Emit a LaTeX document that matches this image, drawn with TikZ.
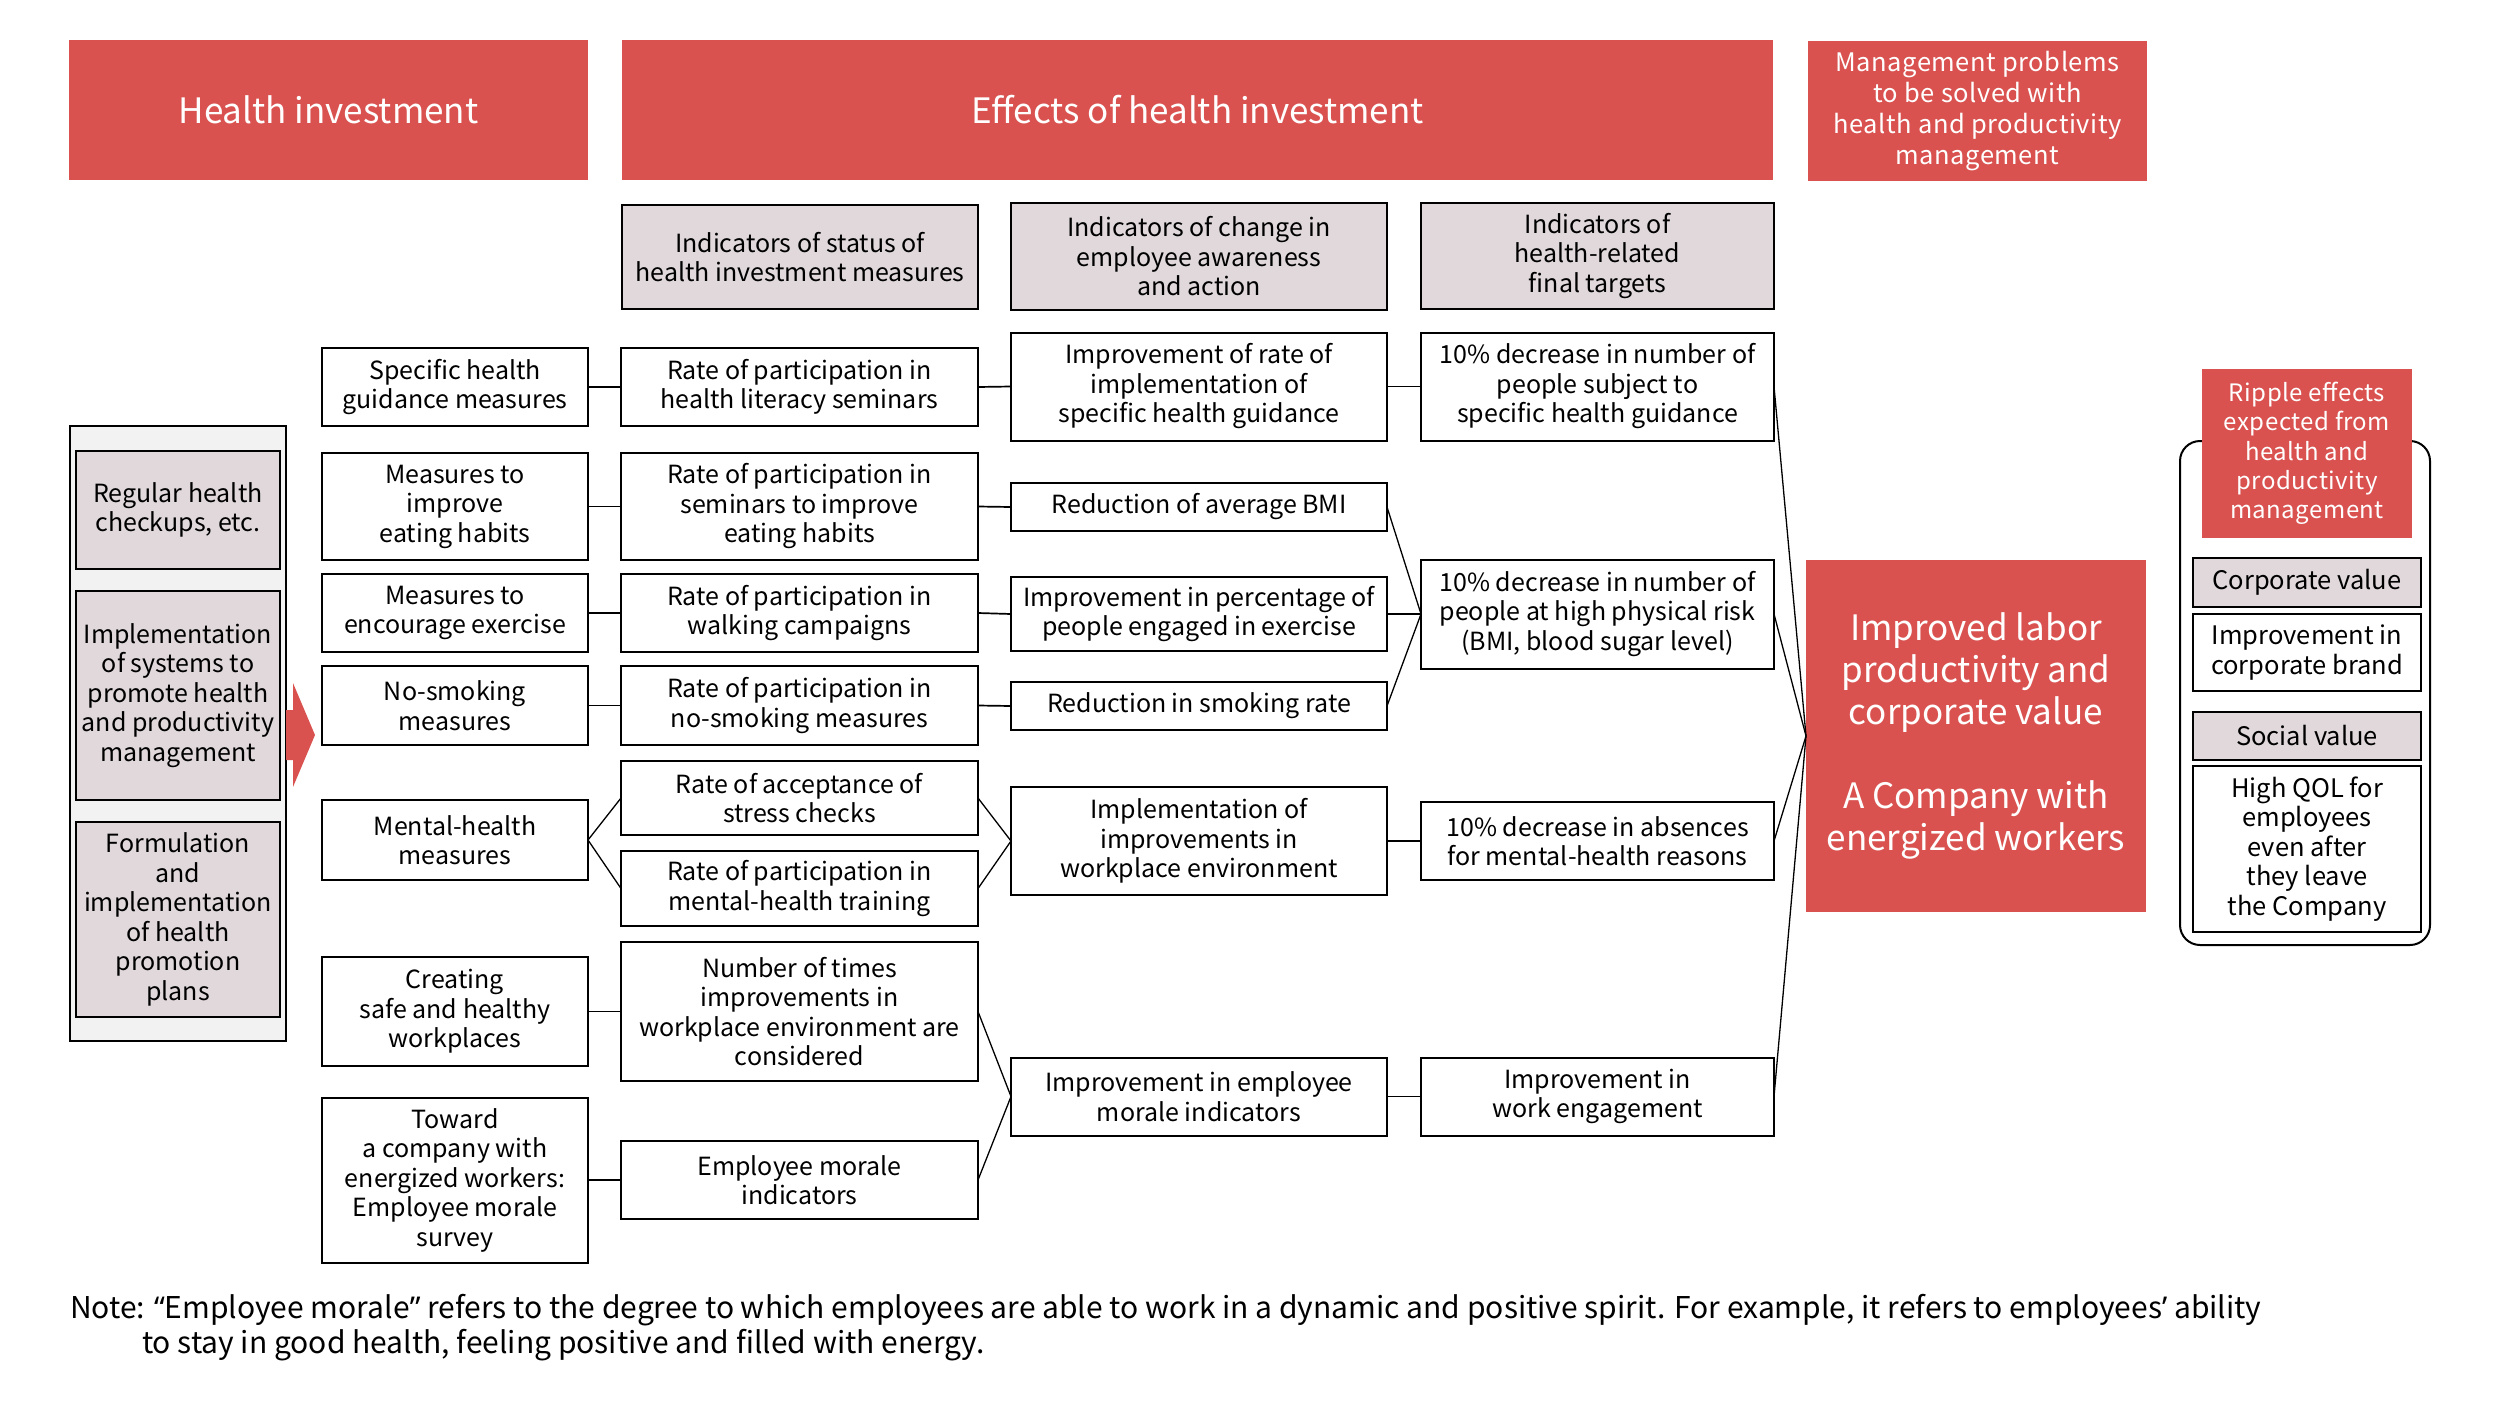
\documentclass[tikz,border=0pt]{standalone}
\usepackage{fontspec}
\setmainfont{Noto Sans CJK JP}
\newfontfamily\spaced[LetterSpace=2]{Noto Sans CJK JP}
\newfontfamily\qf{Noto Sans}
\definecolor{hred}{RGB}{217,82,80}
\definecolor{hgray}{RGB}{224,216,218}
\definecolor{pbg}{RGB}{242,242,242}
\begin{document}
\begin{tikzpicture}[x=1pt,y=-1pt,
  every node/.style={inner sep=0pt, outer sep=0pt},
  wh/.style 2 args={minimum width=#1, minimum height=#2},
  box/.style={draw, line width=2pt, fill=white, align=center, font=\fontsize{25}{29.5}\selectfont},
  ghead/.style={box, fill=hgray},
  redbox/.style={fill=hred, text=white, align=center},
  link/.style={line width=1.7pt},
  dlink/.style={line width=1.3pt},
]
\useasboundingbox (0,0) rectangle (2500,1400);

% top headers
\node[redbox, wh={519}{140}, font=\fontsize{35}{42}\selectfont] (hi) at (328.5,110) {Health investment};
\node[redbox, wh={1151}{140}, font=\fontsize{35}{42}\selectfont] (he) at (1197.5,110) {Effects of health investment};
\node[redbox, wh={339}{140}, font=\spaced\fontsize{25.5}{31.2}\selectfont] (hm) at (1977.5,111) {Management problems\\to be solved with\\health and productivity\\management};

% column headers
\node[ghead, wh={356}{104}] (h1) at (800,257) {Indicators of status of\\health investment measures};
\node[ghead, wh={376}{107}] (h2) at (1199,256.5) {Indicators of change in\\employee awareness\\and action};
\node[ghead, wh={353}{106}] (h3) at (1597.5,256) {Indicators of\\health-related\\final targets};

% left panel
\node[draw, line width=2pt, fill=pbg, wh={216}{615}] (panel) at (178,733.5) {};
\node[ghead, wh={204}{118}] (l1) at (178,510) {Regular health\\checkups, etc.};
\node[ghead, wh={204}{209}] (l2) at (178,695.5) {Implementation\\of systems to\\promote health\\and productivity\\management};
\node[ghead, wh={204}{195}] (l3) at (178,919.5) {Formulation\\and\\implementation\\of health\\promotion\\plans};
\coordinate (arrs) at (286,735);
\fill[hred] (arrs) ++(0,-25) -- ++(7,0) -- ++(0,-27) -- (315,735) -- (293,787) -- ++(0,-27) -- ++(-7,0) -- cycle;

% column 1
\node[box, wh={266}{78}]  (s1) at (455,387)    {Specific health\\guidance measures};
\node[box, wh={266}{107}] (s2) at (455,506.5)  {Measures to\\improve\\eating habits};
\node[box, wh={266}{78}]  (s3) at (455,613)    {Measures to\\encourage exercise};
\node[box, wh={266}{79}]  (s4) at (455,705.5)  {No-smoking\\measures};
\node[box, wh={266}{80}]  (s5) at (455,840)    {Mental-health\\measures};
\node[box, wh={266}{109}] (s6) at (455,1011.5) {Creating\\safe and healthy\\workplaces};
\node[box, wh={266}{165}] (s7) at (455,1180)   {Toward\\a company with\\energized workers:\\Employee morale\\survey};

% column 2
\node[box, wh={357}{78}]  (r1) at (799.5,387)    {Rate of participation in\\health literacy seminars};
\node[box, wh={357}{107}] (r2) at (799.5,506.5)  {Rate of participation in\\seminars to improve\\eating habits};
\node[box, wh={357}{78}]  (r3) at (799.5,613)    {Rate of participation in\\walking campaigns};
\node[box, wh={357}{79}]  (r4) at (799.5,705.5)  {Rate of participation in\\no-smoking measures};
\node[box, wh={357}{74}]  (r5) at (799.5,798)    {Rate of acceptance of\\stress checks};
\node[box, wh={357}{75}]  (r6) at (799.5,888.5)  {Rate of participation in\\mental-health training};
\node[box, wh={357}{139}] (r7) at (799.5,1011.5) {Number of times\\improvements in\\workplace environment are\\considered};
\node[box, wh={357}{78}]  (r8) at (799.5,1180)   {Employee morale\\indicators};

% column 3
\node[box, wh={376}{108}] (c1) at (1199,386.5) {Improvement of rate of\\implementation of\\specific health guidance};
\node[box, wh={376}{48}]  (c2) at (1199,507)   {Reduction of average BMI};
\node[box, wh={376}{74}]  (c3) at (1199,614)   {Improvement in percentage of\\people engaged in exercise};
\node[box, wh={376}{48}]  (c4) at (1199,706)   {Reduction in smoking rate};
\node[box, wh={376}{108}] (c5) at (1199,841)   {Implementation of\\improvements in\\workplace environment};
\node[box, wh={376}{78}]  (c6) at (1199,1096.5){Improvement in employee\\morale indicators};

% column 4
\node[box, wh={353}{108}] (f1) at (1597.5,386.5) {10\% decrease in number of\\people subject to\\specific health guidance};
\node[box, wh={353}{109}] (f2) at (1597.5,614)   {10\% decrease in number of\\people at high physical risk\\(BMI, blood sugar level)};
\node[box, wh={353}{78}]  (f3) at (1597.5,841)   {10\% decrease in absences\\for mental-health reasons};
\node[box, wh={353}{78}]  (f4) at (1597.5,1096.5){Improvement in\\work engagement};

% big red
\node[redbox, wh={340}{352}, font=\fontsize{35}{42}\selectfont] (big) at (1976,736) {Improved labor\\productivity and\\corporate value\\[42pt]A Company with\\energized workers};

% right panel
\node[draw, line width=2pt, rounded corners=20pt, wh={250}{504}] (rp) at (2305,693) {};
\node[redbox, wh={210}{169}, font=\spaced\fontsize{24}{29.3}\selectfont] (rip) at (2307,453.5) {Ripple effects\\expected from\\health and\\productivity\\management};
\node[ghead, wh={228}{49}, font=\fontsize{25.5}{29.5}\selectfont] (cv) at (2307,582.5) {Corporate value};
\node[box, wh={228}{77}, font=\fontsize{25.5}{29.5}\selectfont] (cb) at (2307,652.5) {Improvement in\\corporate brand};
\node[ghead, wh={228}{48}, font=\fontsize{25.5}{29.5}\selectfont] (sv) at (2307,736) {Social value};
\node[box, wh={228}{166}, font=\fontsize{25.5}{29.5}\selectfont] (qol) at (2307,849) {High QOL for\\employees\\even after\\they leave\\the Company};

% connectors col1 -> col2
\draw[link] (s1.east) -- (r1.west);
\draw[link] (s2.east) -- (r2.west);
\draw[link] (s3.east) -- (r3.west);
\draw[link] (s4.east) -- (r4.west);
\draw[dlink] (r5.west) -- (s5.east) -- (r6.west);
\draw[link] (s6.east) -- (r7.west);
\draw[link] (s7.east) -- (r8.west);
% col2 -> col3
\draw[link] (r1.east) -- (c1.west);
\draw[link] (r2.east) -- (c2.west);
\draw[link] (r3.east) -- (c3.west);
\draw[link] (r4.east) -- (c4.west);
\draw[dlink] (r5.east) -- (c5.west) -- (r6.east);
\draw[dlink] (r7.east) -- (c6.west) -- (r8.east);
% col3 -> col4
\draw[link] (c1.east) -- (f1.west);
\draw[dlink] (c2.east) -- (f2.west) -- (c4.east);
\draw[link] (c3.east) -- (f2.west);
\draw[link] (c5.east) -- (f3.west);
\draw[link] (c6.east) -- (f4.west);
% col4 -> big
\draw[dlink] (f1.east) -- (big.west);
\draw[dlink] (f2.east) -- (big.west);
\draw[dlink] (f3.east) -- (big.west);
\draw[dlink] (f4.east) -- (big.west);

% note
\node[anchor=base west, font=\fontsize{30}{35}\selectfont] (n1) at (70,1318) {Note: {\qf“}Employee morale{\qf”} refers to the degree to which employees are able to work in a dynamic and positive spirit. For example, it refers to employees{\qf’} ability};
\node[anchor=base west, font=\fontsize{30}{35}\selectfont] (n2) at (142,1353) {to stay in good health, feeling positive and filled with energy.};
\end{tikzpicture}
\end{document}
